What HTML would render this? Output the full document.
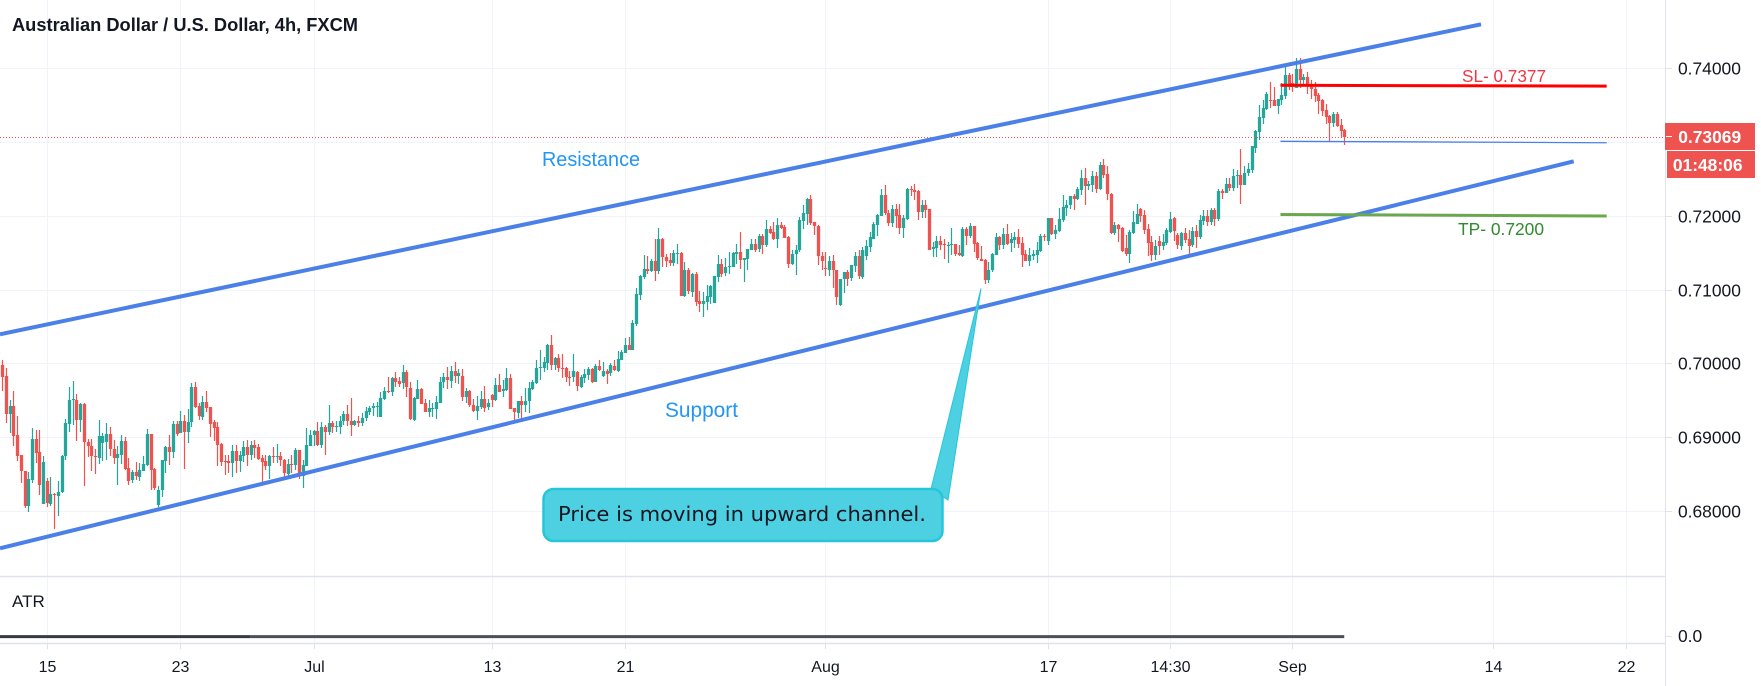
<!DOCTYPE html>
<html lang="en">
<head>
<meta charset="utf-8">
<title>Australian Dollar / U.S. Dollar, 4h, FXCM</title>
<style>
html,body{margin:0;padding:0;background:#fff;width:1761px;height:686px;overflow:hidden}
svg{display:block}
text{font-family:"Liberation Sans",sans-serif}
</style>
</head>
<body>
<svg id="chart" xmlns="http://www.w3.org/2000/svg" width="1761" height="686" viewBox="0 0 1761 686">
<rect x="0" y="0" width="1761" height="686" fill="#ffffff"/>
<g id="grid"></g>
<g id="candles"></g>
<g id="price-line-layer"></g>
<g id="drawings"></g>
<path d="M931 489 L981 288.5 L948 500 Z" fill="#4dd0e1" stroke="#26c6da" stroke-width="1"/>
<rect x="543.5" y="489" width="399" height="52" rx="10" ry="10" fill="#4dd0e1" stroke="#26c6da" stroke-width="2.5"/>
<text x="558" y="521" font-size="20" fill="#131722" textLength="368" lengthAdjust="spacingAndGlyphs" style="font-family:'DejaVu Sans',sans-serif">Price is moving in upward channel.</text>
<text x="542" y="166" font-size="20.5" fill="#2196f3" textLength="98" lengthAdjust="spacingAndGlyphs">Resistance</text>
<text x="665" y="417" font-size="20.8" fill="#2196f3" textLength="73" lengthAdjust="spacingAndGlyphs">Support</text>
<text x="1462" y="82" font-size="17.2" fill="#f23645" textLength="84" lengthAdjust="spacingAndGlyphs">SL- 0.7377</text>
<text x="1458" y="235" font-size="17.4" fill="#2e8b2e" textLength="86" lengthAdjust="spacingAndGlyphs">TP- 0.7200</text>
<text x="12" y="31" font-size="18" font-weight="700" fill="#131722" textLength="346" lengthAdjust="spacingAndGlyphs">Australian Dollar / U.S. Dollar, 4h, FXCM</text>
<text x="12" y="607" font-size="17" fill="#131722">ATR</text>
<line x1="0" y1="576.5" x2="1666" y2="576.5" stroke="#e0e3eb" stroke-width="1.5"/>
<line x1="0" y1="643.5" x2="1666" y2="643.5" stroke="#e0e3eb" stroke-width="1.5"/>
<line x1="1665.5" y1="0" x2="1665.5" y2="686" stroke="#e0e3eb" stroke-width="1"/>
<g id="atr-layer"></g>
<g id="axes"></g>
<rect x="1665" y="123" width="90" height="27" fill="#ef5350"/>
<line x1="1666" y1="136.5" x2="1672" y2="136.5" stroke="#ffffff" stroke-width="1"/>
<text x="1709.7" y="143" font-size="17.4" font-weight="700" fill="#ffffff" text-anchor="middle">0.73069</text>
<rect x="1667" y="151" width="88" height="27" fill="#ef5350"/>
<text x="1707.7" y="171" font-size="17.4" font-weight="700" fill="#ffffff" text-anchor="middle">01:48:06</text>
</svg>
<script>
const opens=[6998,6983,6931,6942,6903,6875,6854,6806,6842,6898,6880,6809,6840,6809,6823,6820,6825,6874,6918,6950,
6950,6923,6945,6893,6888,6874,6872,6892,6893,6904,6884,6872,6876,6895,6858,6841,6852,6846,6854,6862,
6904,6857,6807,6828,6868,6887,6880,6918,6906,6922,6907,6920,6968,6942,6927,6948,6941,6920,6914,6891,
6868,6868,6865,6881,6868,6875,6887,6876,6889,6887,6872,6867,6860,6874,6873,6874,6869,6851,6864,6862,
6883,6847,6861,6888,6902,6908,6889,6914,6907,6919,6914,6914,6921,6931,6922,6916,6922,6919,6925,6934,
6939,6940,6927,6952,6963,6961,6980,6976,6973,6988,6967,6923,6952,6965,6946,6934,6938,6938,6947,6974,
6981,6977,6990,6983,6983,6954,6962,6943,6935,6941,6952,6940,6957,6950,6971,6962,6964,6980,6939,6933,
6949,6943,6948,6965,6973,6993,6994,7000,7025,6997,7007,6994,6993,6982,6981,6988,6968,6980,6984,6992,
6974,6996,6983,6990,6987,6996,6990,7004,7014,7025,7018,7053,7092,7117,7128,7125,7139,7125,7168,7144,
7140,7136,7148,7149,7091,7126,7097,7121,7084,7080,7083,7090,7082,7117,7135,7122,7130,7130,7148,7151,
7140,7141,7154,7162,7154,7172,7160,7182,7178,7168,7187,7185,7171,7135,7147,7153,7193,7202,7223,7191,
7186,7146,7129,7127,7139,7127,7079,7114,7124,7115,7132,7145,7117,7146,7158,7169,7188,7200,7228,7204,
7190,7209,7201,7183,7196,7236,7235,7234,7205,7215,7209,7155,7156,7166,7162,7160,7160,7162,7149,7146,
7182,7173,7186,7163,7142,7140,7113,7126,7147,7171,7160,7175,7164,7167,7171,7163,7148,7139,7145,7147,
7152,7173,7166,7197,7175,7180,7194,7211,7215,7227,7223,7235,7251,7240,7242,7254,7236,7269,7257,7230,
7177,7188,7183,7156,7148,7177,7190,7209,7201,7182,7164,7147,7166,7160,7163,7179,7197,7174,7160,7177,
7169,7160,7179,7171,7193,7200,7192,7208,7196,7234,7231,7243,7238,7253,7255,7242,7257,7262,7292,7314,
7333,7345,7357,7357,7349,7357,7362,7391,7380,7373,7399,7384,7388,7377,7372,7364,7357,7343,7335,7326,7338,7323,7316];
const highs=[7005,6993,6950,6963,6928,6876,6854,6853,6912,6910,6910,6874,6845,6846,6824,6841,6876,6924,6968,6976,
6959,6946,6946,6898,6898,6884,6923,6905,6919,6914,6896,6888,6903,6900,6871,6855,6866,6865,6874,6911,
6904,6858,6834,6869,6888,6903,6922,6922,6935,6930,6938,6973,6975,6946,6956,6963,6941,6923,6920,6892,
6876,6876,6889,6889,6881,6894,6896,6895,6896,6890,6876,6875,6876,6887,6890,6880,6870,6870,6876,6885,
6883,6869,6912,6909,6910,6921,6921,6917,6944,6922,6922,6928,6935,6944,6953,6923,6928,6932,6941,6942,
6946,6948,6961,6968,6982,6981,6988,6981,6998,6991,6975,6954,6977,6966,6951,6950,6946,6956,6981,6987,
6995,6996,7002,6992,6992,6967,6964,6951,6955,6963,6969,6951,6959,6980,6985,6977,6993,6985,6940,6949,
6955,6966,6974,6977,7005,7018,7008,7026,7038,7009,7013,7013,6995,6989,7013,6989,6984,6992,6995,6993,
6999,7004,7002,6992,7001,7004,7017,7018,7034,7035,7059,7102,7120,7147,7145,7142,7168,7183,7170,7148,
7149,7154,7162,7151,7137,7129,7123,7124,7098,7097,7106,7106,7118,7147,7142,7143,7151,7151,7162,7178,
7143,7155,7168,7169,7175,7175,7194,7186,7191,7197,7192,7187,7172,7153,7160,7199,7215,7224,7228,7192,
7188,7151,7151,7145,7147,7127,7114,7124,7127,7133,7151,7154,7158,7167,7178,7191,7203,7236,7242,7208,
7215,7216,7216,7201,7238,7240,7243,7235,7221,7222,7209,7165,7172,7173,7168,7164,7184,7162,7160,7185,
7185,7190,7186,7164,7159,7142,7138,7150,7176,7173,7184,7189,7177,7178,7182,7171,7154,7156,7154,7164,
7175,7175,7197,7197,7188,7210,7228,7221,7227,7230,7239,7262,7265,7247,7261,7260,7273,7277,7268,7231,
7192,7189,7185,7174,7181,7206,7216,7211,7208,7189,7173,7167,7173,7175,7183,7205,7199,7176,7178,7183,
7181,7185,7188,7201,7208,7208,7211,7210,7237,7237,7251,7251,7263,7262,7291,7267,7272,7295,7316,7350,
7357,7368,7381,7374,7359,7380,7404,7394,7392,7414,7414,7392,7395,7384,7382,7366,7358,7352,7337,7341,7341,7331,7318];
const lows=[6963,6919,6905,6889,6867,6838,6804,6799,6838,6865,6822,6809,6806,6807,6775,6794,6824,6868,6907,6916,
6895,6907,6833,6874,6855,6850,6864,6867,6869,6875,6864,6835,6864,6855,6834,6837,6842,6840,6853,6861,
6828,6828,6805,6819,6852,6862,6872,6902,6905,6857,6892,6913,6940,6923,6924,6935,6901,6895,6861,6861,
6849,6851,6846,6851,6853,6865,6861,6869,6872,6868,6840,6855,6843,6865,6864,6861,6841,6844,6851,6855,
6844,6831,6860,6887,6888,6888,6886,6876,6904,6906,6907,6903,6916,6916,6901,6915,6913,6914,6922,6930,
6929,6928,6927,6950,6960,6955,6968,6968,6966,6955,6924,6921,6951,6945,6933,6927,6927,6925,6946,6966,
6965,6966,6973,6971,6949,6946,6941,6933,6922,6939,6934,6936,6941,6949,6961,6954,6962,6937,6924,6926,
6921,6933,6932,6964,6973,6977,6988,6991,6991,6991,6989,6980,6975,6968,6975,6962,6966,6973,6977,6973,
6974,6989,6982,6972,6984,6989,6989,7004,7013,7017,7018,7051,7086,7115,7120,7124,7111,7120,7131,7131,
7132,7132,7135,7091,7090,7094,7091,7078,7069,7063,7072,7080,7081,7111,7118,7118,7121,7130,7135,7128,
7111,7126,7154,7151,7150,7148,7157,7175,7167,7156,7182,7169,7128,7133,7120,7151,7182,7188,7188,7175,
7134,7127,7118,7118,7102,7079,7077,7095,7105,7111,7124,7115,7114,7140,7151,7168,7173,7200,7201,7186,
7185,7183,7176,7170,7195,7226,7221,7194,7197,7197,7153,7145,7144,7154,7141,7135,7147,7146,7145,7145,
7160,7170,7151,7140,7139,7108,7109,7124,7147,7154,7156,7160,7151,7156,7156,7131,7139,7131,7140,7136,
7151,7165,7160,7174,7169,7178,7192,7199,7210,7208,7221,7228,7215,7235,7232,7231,7235,7251,7222,7176,
7175,7164,7151,7146,7136,7175,7189,7192,7175,7146,7139,7140,7147,7153,7160,7176,7167,7154,7154,7163,
7149,7158,7157,7169,7187,7186,7188,7186,7194,7224,7230,7233,7233,7237,7216,7241,7255,7258,7285,7303,
7325,7343,7346,7348,7339,7350,7358,7371,7368,7373,7373,7377,7365,7358,7355,7337,7335,7325,7301,7320,7320,7306,7296];
const closes=[6982,6931,6942,6902,6874,6853,6806,6843,6898,6879,6835,6866,6810,6823,6822,6826,6874,6919,6950,6951,
6923,6945,6893,6887,6874,6872,6902,6902,6904,6883,6872,6877,6895,6857,6841,6852,6846,6855,6864,6904,
6855,6831,6828,6869,6887,6880,6918,6905,6922,6907,6921,6968,6941,6928,6948,6940,6918,6912,6890,6867,
6866,6865,6881,6868,6876,6887,6876,6889,6885,6871,6867,6860,6874,6873,6874,6868,6851,6864,6863,6883,
6848,6862,6889,6903,6908,6889,6914,6907,6919,6914,6915,6922,6931,6921,6916,6922,6919,6926,6935,6940,
6942,6942,6953,6963,6961,6980,6975,6972,6988,6967,6925,6953,6965,6945,6934,6939,6939,6947,6975,6981,
6977,6990,6983,6987,6955,6962,6943,6935,6942,6952,6940,6946,6950,6971,6962,6965,6980,6938,6933,6949,
6943,6949,6966,6975,6994,6995,7002,7025,6998,7007,6993,6992,6981,6981,6989,6969,6982,6985,6992,6974,
6996,6991,6990,6986,6998,6990,7006,7015,7025,7018,7054,7094,7118,7128,7125,7139,7125,7168,7143,7139,
7136,7149,7149,7091,7126,7097,7121,7083,7080,7084,7091,7105,7118,7135,7122,7130,7132,7149,7151,7140,
7143,7155,7162,7154,7172,7160,7182,7177,7168,7187,7183,7170,7135,7148,7153,7194,7204,7223,7190,7186,
7145,7139,7127,7139,7127,7090,7114,7124,7114,7133,7145,7118,7153,7159,7171,7189,7201,7228,7203,7190,
7209,7200,7184,7197,7236,7234,7232,7205,7215,7208,7154,7158,7166,7160,7160,7161,7162,7148,7146,7182,
7173,7186,7162,7142,7139,7113,7127,7148,7171,7160,7175,7162,7169,7171,7162,7147,7139,7147,7148,7154,
7173,7171,7197,7175,7181,7196,7212,7215,7227,7223,7236,7251,7240,7243,7254,7236,7269,7255,7230,7177,
7188,7182,7152,7148,7178,7192,7203,7200,7181,7163,7147,7159,7159,7165,7181,7196,7179,7160,7177,7167,
7160,7179,7171,7194,7200,7192,7208,7196,7234,7231,7243,7238,7254,7255,7242,7258,7263,7294,7315,7334,
7346,7365,7356,7349,7358,7364,7391,7375,7374,7399,7384,7388,7376,7371,7362,7356,7342,7334,7326,7338,7322,7315,7307];

const priceTicks=[0.74,0.73,0.72,0.71,0.70,0.69,0.68];
const priceTickLabels=["0.74000",null,"0.72000","0.71000","0.70000","0.69000","0.68000"];
const timeTickBars=[12,48,84,132,168,222,282,315,348,402,438];
const timeTickLabels=["15","23","Jul","13","21","Aug","17","14:30","Sep","14","22"];

const resistanceBars=[-0.62,398.9];
const resistancePrices=[0.703932,0.745966];
const supportBars=[-0.62,423.9];
const supportPrices=[0.674915,0.72739];
const stopLossBars=[344.8,432.8];
const stopLossPrices=[0.7377,0.73758];
const takeProfitBars=[344.8,432.8];
const takeProfitPrices=[0.72017,0.71998];
const targetBars=[344.8,432.8];
const targetPrices=[0.7301,0.72991];
const lastPrice=0.73069;
const atrBars=[-0.62,67,362];
const atrValues=[0.0015,0.0015,0.0015];

const NS="http://www.w3.org/2000/svg";
function barX(i){return 2.3+i*3.707;}
function priceY(p){return 68.3+(0.74-p)*7375;}
function atrY(v){return 636.7-v*20;}
function make(tag,attrs,parent){
  const el=document.createElementNS(NS,tag);
  for(const k in attrs){el.setAttribute(k,attrs[k]);}
  parent.appendChild(el);
  return el;
}

const grid=document.getElementById('grid');
priceTicks.forEach(function(p){
  const y=Math.round(priceY(p))+0.5;
  const gl=make('line',{x1:0,x2:1666,y1:y,y2:y,stroke:'#f0f3fa','stroke-width':1},grid);
  
  
});
timeTickBars.forEach(function(b){
  const x=Math.round(barX(b))+0.5;
  const gl=make('line',{x1:x,x2:x,y1:0,y2:643,stroke:'#f0f3fa','stroke-width':1},grid);
  
  
});

const candleLayer=document.getElementById('candles');
opens.forEach(function(o,i){
  const c=closes[i],up=c>=o,color=up?'#26a69a':'#ef5350';
  const cx=Math.round(barX(i));
  const g=make('g',{fill:color},candleLayer);
  
  
  const hy=priceY(highs[i]/10000),ly=priceY(lows[i]/10000);
  make('rect',{x:cx-0.1,y:Math.round(hy),width:1.2,height:Math.max(1,Math.round(ly-hy))},g);
  const ty=priceY(Math.max(o,c)/10000),by=priceY(Math.min(o,c)/10000);
  make('rect',{x:cx-1.15,y:Math.round(ty),width:3.3,height:Math.max(1,Math.round(by-ty))},g);
});

const priceLineLayer=document.getElementById('price-line-layer');
const lastY=Math.round(priceY(lastPrice))+0.5;
const lastLine=make('line',{x1:0,x2:1666,y1:lastY,y2:lastY,stroke:'#ef5350','stroke-width':1,'stroke-dasharray':'1 2'},priceLineLayer);



const drawings=document.getElementById('drawings');
function seg(bars,prices,color,width){
  return make('line',{x1:barX(bars[0]),y1:priceY(prices[0]),x2:barX(bars[1]),y2:priceY(prices[1]),stroke:color,'stroke-width':width},drawings);
}
const resLine=seg(resistanceBars,resistancePrices,'#4a80e8',4);


const supLine=seg(supportBars,supportPrices,'#4a80e8',4);


const slLine=seg(stopLossBars,stopLossPrices,'#ff0000',3);


const tpLine=seg(takeProfitBars,takeProfitPrices,'#6aa84f',3);


const targetLine=seg(targetBars,targetPrices,'#4a80e8',1.3);



const atrLayer=document.getElementById('atr-layer');
const atrA=make('line',{x1:barX(atrBars[0]),x2:barX(atrBars[1]),y1:atrY(atrValues[0]),y2:atrY(atrValues[1]),stroke:'#373a45','stroke-width':3},atrLayer);


const atrB=make('line',{x1:barX(atrBars[1]),x2:barX(atrBars[2]),y1:atrY(atrValues[1]),y2:atrY(atrValues[2]),stroke:'#4c4f5a','stroke-width':3},atrLayer);



const axes=document.getElementById('axes');
priceTicks.forEach(function(p,i){
  const y=Math.round(priceY(p))+0.5;
  const tk=make('line',{x1:1666,x2:1672,y1:y,y2:y,stroke:'#e0e3eb','stroke-width':1},axes);
  
  
  if(priceTickLabels[i]){
    const t=make('text',{x:1678,y:y+6,'font-size':17.4,fill:'#131722'},axes);
    
    
    t.textContent=priceTickLabels[i];
  }
});
const atrTick=make('text',{x:1678,y:642,'font-size':17.4,fill:'#131722'},axes);


atrTick.textContent='0.0';
const atrTickMark=make('line',{x1:1666,x2:1672,y1:636.5,y2:636.5,stroke:'#e0e3eb','stroke-width':1},axes);


timeTickBars.forEach(function(b,i){
  const x=Math.round(barX(b))+0.5;
  const tk=make('line',{x1:x,x2:x,y1:644,y2:649,stroke:'#e0e3eb','stroke-width':1},axes);
  
  
  const t=make('text',{x:x,y:672,'font-size':16,fill:'#131722','text-anchor':'middle'},axes);
  
  
  t.textContent=timeTickLabels[i];
});
</script>
</body>
</html>
